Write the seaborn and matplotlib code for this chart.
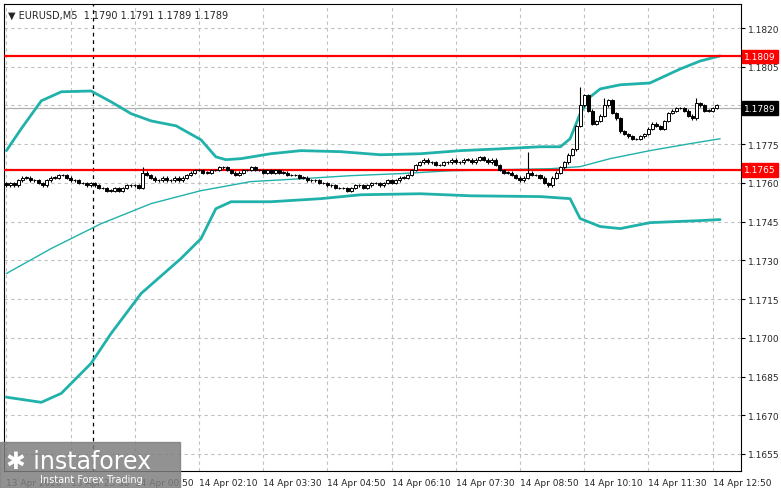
import numpy as np
import pandas as pd
import matplotlib
matplotlib.use("Agg")
import matplotlib.pyplot as plt
import seaborn as sns

closes = [1.1759,1.1760,1.1759,1.1761,1.1762,1.1762,1.1761,1.1761,1.1760,1.1759,1.1761,1.1762,1.1762,1.1763,1.1763,1.1762,
          1.1761,1.1761,1.1760,1.1760,1.1759,1.1760,1.1759,
          1.1758,1.1758,1.1757,1.1757,1.1758,1.1757,1.1758,1.1759,1.1759,1.1759,1.1758,
          1.1764,
          1.1763,1.1762,1.1761,1.1761,1.1762,1.1761,1.1761,1.1762,1.1761,1.1762,1.1763,
          1.1764,1.1765,1.1765,1.1764,1.1764,1.1765,1.1765,1.1766,1.1766,1.1765,1.1764,1.1763,1.1764,1.1765,1.1765,
          1.1766,1.1765,1.1765,1.1764,1.1765,1.1764,1.1765,1.1764,1.1764,1.1763,1.1763,1.1763,1.1762,1.1762,1.1761,1.1761,1.1761,1.1760,1.1760,1.1759,
          1.1759,1.1758,1.1758,1.1758,1.1757,1.1758,1.1759,1.1759,1.1758,1.1759,1.1760,1.1760,1.1759,1.1760,1.1761,1.1760,1.1761,1.1762,1.1762,1.1763,
          1.1765,1.1767,1.1768,1.1769,1.1768,1.1768,1.1767,1.1767,1.1768,1.1768,
          1.1769,1.1768,1.1768,1.1769,1.1769,1.1768,1.1769,1.1770,1.1769,1.1768,1.1769,1.1767,1.1765,1.1764,1.1764,
          1.1763,1.1762,1.1761,1.1762,1.1764,1.1763,1.1763,1.1762,1.1760,1.1759,1.1762,
          1.1764,1.1766,1.1768,1.1771,1.1773,1.1782,1.1790,1.1794,1.1788,
          1.1783,1.1784,1.1786,1.1790,1.1792,1.1787,1.1785,1.1780,1.1779,1.1778,
          1.1777,1.1777,1.1778,1.1779,1.1781,1.1783,1.1782,1.1781,1.1784,1.1787,
          1.1788,1.1789,1.1789,1.1788,1.1786,1.1785,1.1791,1.1790,1.1788,1.1788,1.1789,1.1790]
first_open = 1.1760
spike_bars = [34, 130, 143, 149, 172]
spike_highs = [1.1766, 1.1772, 1.1797, 1.1793, 1.1793]

upper_x = [0,3.7,8.7,13.7,21.1,26.1,31.1,36.1,42.3,48.5,52.2,54.7,58.5,65.9,73.4,83.3,93.3,103.2,113.2,123.1,133.1,138.1,140.5,143,145.5,148,153,160.4,167.9,172.9,177.9]
upper_y = [1.17725,1.17810,1.17918,1.17953,1.17956,1.17914,1.17868,1.17840,1.17821,1.17767,1.17701,1.17690,1.17694,1.17713,1.17725,1.17721,1.17709,1.17713,1.17725,1.17732,1.17740,1.17740,1.17771,1.17868,1.17933,1.17964,1.17980,1.17987,1.18041,1.18072,1.18092]
mid_x = [0,11.2,23.6,36.1,48.5,60.9,73.4,85.8,98.3,110.7,123.1,135.6,143,150.5,160.4,170.4,177.9]
mid_y = [1.17249,1.17346,1.17442,1.17520,1.17570,1.17605,1.17616,1.17628,1.17636,1.17647,1.17651,1.17655,1.17663,1.17694,1.17725,1.17752,1.17771]
lower_x = [0,8.7,13.7,21.1,26.1,33.6,43.5,48.5,52.2,56,65.9,78.4,88.3,103.2,115.7,133.1,140.5,143,148,153,160.4,172.9,177.9]
lower_y = [1.16770,1.16750,1.16785,1.16901,1.17017,1.17172,1.17307,1.17384,1.17500,1.17527,1.17527,1.17539,1.17554,1.17558,1.17550,1.17547,1.17539,1.17462,1.17431,1.17423,1.17446,1.17454,1.17458]

tick_bars = [0,16,32,48,64,80,96,112,128,144,160,176]
tick_labels = ["13 Apr 2026","13 Apr 23:30","14 Apr 00:50","14 Apr 02:10","14 Apr 03:30","14 Apr 04:50",
               "14 Apr 06:10","14 Apr 07:30","14 Apr 08:50","14 Apr 10:10","14 Apr 11:30","14 Apr 12:50"]
price_ticks = [1.1820,1.1805,1.1790,1.1775,1.1760,1.1745,1.1730,1.1715,1.1700,1.1685,1.1670,1.1655]
price_tick_labels = ["1.1820","1.1805","","1.1775","1.1760","1.1745","1.1730","1.1715","1.1700","1.1685","1.1670","1.1655"]
levels = [1.1809, 1.1765]
last_price = 1.1789
day_sep = 21.5

sns.set_style("white")
plt.rcParams['font.family'] = ['DejaVu Sans']

fig = plt.figure(figsize=(7.81, 4.89), dpi=100)
ax = fig.add_axes([4/781, 1-472/489, (741-4)/781, (472-5)/489])
ax.set_xlim(-0.6, 183.1)
ax.set_ylim(1.16484, 1.18293)

for p in price_ticks:
    ax.axhline(p, color="#c0c0c0", lw=0.8, ls=(0, (3, 3)), zorder=0)
for b in tick_bars:
    ax.axvline(b, color="#c0c0c0", lw=0.8, ls=(0, (3, 3)), zorder=0)
ax.axvline(day_sep, color="black", lw=0.9, ls=(0, (3, 3)), zorder=1)
ax.axhline(last_price, color="#b0b0b0", lw=0.9, zorder=1)

for lv in levels:
    ax.axhline(lv, color="#ff0000", lw=1.6, zorder=3)

band_color = "#20b2aa"
sns.lineplot(x=upper_x, y=upper_y, ax=ax, color=band_color, lw=2, zorder=2)
sns.lineplot(x=lower_x, y=lower_y, ax=ax, color=band_color, lw=2, zorder=2)
sns.lineplot(x=mid_x, y=mid_y, ax=ax, color=band_color, lw=1, zorder=2)

opens = [first_open] + closes[:-1]
idx = np.arange(len(closes))
highs = [max(o, c) + 0.00005 for o, c in zip(opens, closes)]
lows = [min(o, c) - 0.00005 for o, c in zip(opens, closes)]
for b, h in zip(spike_bars, spike_highs):
    highs[b] = h
ax.vlines(idx, lows, highs, color="black", lw=0.8, zorder=4)
for i, (o, c) in enumerate(zip(opens, closes)):
    bottom = min(o, c)
    hgt = max(abs(c - o), 0.00001)
    ax.bar(i, hgt, bottom=bottom, width=0.75, color="white" if c >= o else "black",
           edgecolor="black", lw=0.7, zorder=5)

ax.yaxis.tick_right()
ax.set_yticks(price_ticks)
ax.set_yticklabels(price_tick_labels, fontsize=6.5)
ax.set_xticks(tick_bars)
ax.set_xticklabels(tick_labels, fontsize=6.5, ha="left")
ax.tick_params(axis="both", length=3, color="black", pad=2)
for s in ax.spines.values():
    s.set_color("black"); s.set_linewidth(0.8)

def tag(val, text, bg, fg="white"):
    ax.text(1.004, val, text, transform=ax.get_yaxis_transform(), fontsize=6.5, color=fg,
            va="center", ha="left", bbox=dict(boxstyle="square,pad=0.25", fc=bg, ec=bg), zorder=10, clip_on=False)
for lv in levels:
    tag(lv, f"{lv:.4f}", "#ff0000")
tag(last_price, f"{last_price:.4f}", "black")

ax.text(0.006, 0.988, "▼ EURUSD,M5  1.1790 1.1791 1.1789 1.1789", transform=ax.transAxes,
        fontsize=7, va="top", ha="left")

fig.patches.append(plt.Rectangle((0, 0), 180/781, 46/489, transform=fig.transFigure,
                                 color="#7f7f7f", alpha=0.85, zorder=20))
fig.text(6/781, 1-462/489, "✱ instaforex", fontsize=17, color="white", va="center", ha="left", zorder=21)
fig.text(40/781, 1-480/489, "Instant Forex Trading", fontsize=7, color="white", va="center", ha="left", zorder=21)

fig.savefig("out.png", dpi=100, facecolor="white")
